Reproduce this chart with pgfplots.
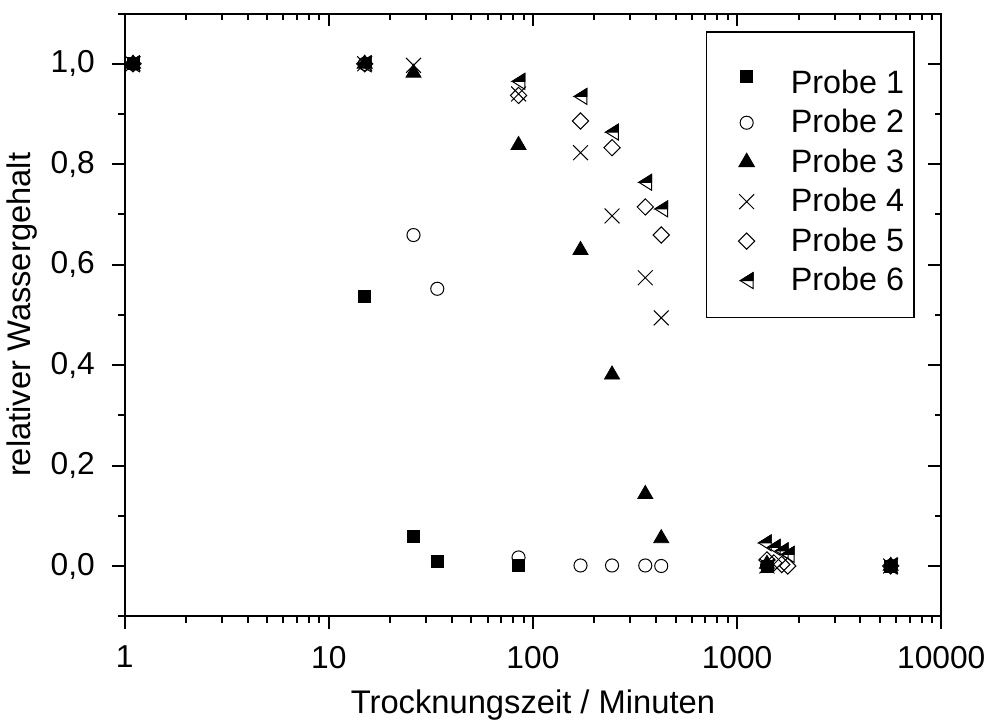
\documentclass[border=0pt]{standalone}
\usepackage{pgfplots}
\pgfplotsset{compat=1.18}
\usepackage{fontspec}
\setmainfont{Liberation Sans}
\pgfdeclareplotmark{halftri}{%
  \pgfpathmoveto{\pgfqpoint{-0.8\pgfplotmarksize}{0pt}}%
  \pgfpathlineto{\pgfqpoint{0.8\pgfplotmarksize}{\pgfplotmarksize}}%
  \pgfpathlineto{\pgfqpoint{0.8\pgfplotmarksize}{0pt}}%
  \pgfpathclose
  \pgfusepathqfillstroke
  \pgfpathmoveto{\pgfqpoint{-0.8\pgfplotmarksize}{0pt}}%
  \pgfpathlineto{\pgfqpoint{0.8\pgfplotmarksize}{\pgfplotmarksize}}%
  \pgfpathlineto{\pgfqpoint{0.8\pgfplotmarksize}{-\pgfplotmarksize}}%
  \pgfpathclose
  \pgfusepathqstroke
}
\begin{document}
\begin{tikzpicture}
\begin{axis}[
  width=412pt, height=304pt, scale only axis,
  xmode=log, xmin=1, xmax=10000, ymin=-0.1, ymax=1.1,
  xtick={1,10,100,1000,10000},
  minor xtick={2,3,4,5,6,7,8,9,20,30,40,50,60,70,80,90,200,300,400,500,600,700,800,900,2000,3000,4000,5000,6000,7000,8000,9000},
  ytick={0,0.2,0.4,0.6,0.8,1.0},
  minor ytick={-0.1,0.1,0.3,0.5,0.7,0.9,1.1},
  axis line style={line width=1pt},
  every tick/.style={black, line width=1pt},
  major tick length=6.5pt, minor tick length=3.2pt,
  /pgf/number format/assume math mode=true,
  tick label style={font=\fontsize{16}{19}\selectfont},
  label style={font=\fontsize{16.5}{20}\selectfont},
  tick align=outside, xtick pos=bottom, ytick pos=left,
  xticklabels={1,10,100,1000,10000},
  xticklabel style={yshift=-5pt},
  yticklabel style={xshift=-5pt, /pgf/number format/.cd, fixed, fixed zerofill, precision=1, use comma},
  xlabel={Trocknungszeit / Minuten},
  ylabel={relativer Wassergehalt},
  xlabel style={yshift=-4pt},
  ylabel style={yshift=0pt},
  legend style={at={(1,1)}, anchor=north east, xshift=-13.5pt, yshift=-9pt,
    draw=black, line width=0.6pt, font=\fontsize{16.3}{19}\selectfont,
    inner xsep=3pt, inner ysep=10pt, row sep=2.6pt},
  legend cell align=left,
  legend image code/.code={\path (0pt,0pt) (37pt,0pt); \draw[mark repeat=1,#1] plot coordinates {(17pt,0pt)};},
]
\addplot[only marks, mark=square*, mark size=3pt, black] coordinates {
 (1.1,1.0) (15,0.537) (26,0.059) (34,0.009) (85,0.002) (1400,0.0) (5650,0.0)};
\addlegendentry{\rule{0pt}{19pt}Probe 1}
\addplot[only marks, mark=o, mark size=3.3pt, black, mark options={line width=0.5pt, fill=white}] coordinates {
 (1.1,1.0) (15,1.0) (26,0.659) (34,0.552) (85,0.017) (171,0.001) (244,0.001) (355,0.001) (425,0.0) (1400,0.0) (5650,0.0)};
\addlegendentry{Probe 2}
\addplot[only marks, mark=triangle*, mark size=4.4pt, black] coordinates {
 (1.1,1.0) (15,1.0) (26,0.982) (85,0.838) (171,0.629) (244,0.381) (355,0.143) (425,0.055) (1400,0.004) (5650,0.0)};
\addlegendentry{Probe 3}
\addplot[only marks, mark=x, mark size=5.3pt, black, mark options={line width=0.5pt}] coordinates {
 (1.1,1.0) (15,1.0) (26,0.997) (85,0.94) (171,0.823) (244,0.697) (355,0.574) (425,0.494) (1400,0.0) (5650,0.0)};
\addlegendentry{Probe 4}
\addplot[only marks, mark=square, mark size=2.9pt, black, mark options={rotate=45, line width=0.5pt, fill=white}] coordinates {
 (1.1,1.0) (15,1.0) (85,0.937) (171,0.886) (244,0.833) (355,0.715) (425,0.659) (1400,0.012) (1513,0.006) (1653,0.003) (1770,0.0) (5650,0.0)};
\addlegendentry{Probe 5}
\addplot[only marks, mark=halftri, mark size=4pt, black, mark options={line width=0.5pt, fill=black}] coordinates {
 (1.1,1.0) (15,1.0) (85,0.965) (171,0.935) (244,0.864) (355,0.764) (425,0.711) (1368,0.046) (1513,0.037) (1653,0.03) (1770,0.023) (5650,0.0)};
\addlegendentry{Probe 6}
\end{axis}
\begin{axis}[
  width=412pt, height=304pt, scale only axis,
  xmode=log, xmin=1, xmax=10000, ymin=-0.1, ymax=1.1,
  xtick={1,10,100,1000,10000},
  minor xtick={2,3,4,5,6,7,8,9,20,30,40,50,60,70,80,90,200,300,400,500,600,700,800,900,2000,3000,4000,5000,6000,7000,8000,9000},
  ytick={0,0.2,0.4,0.6,0.8,1.0},
  minor ytick={-0.1,0.1,0.3,0.5,0.7,0.9,1.1},
  axis line style={line width=1pt},
  every tick/.style={black, line width=1pt},
  major tick length=6.5pt, minor tick length=3.2pt,
  tick align=inside, xtick pos=top, ytick pos=right,
  xticklabels={}, yticklabels={},
]
\addplot[draw=none, forget plot] coordinates {(1,0)};
\end{axis}
\end{tikzpicture}
\end{document}
